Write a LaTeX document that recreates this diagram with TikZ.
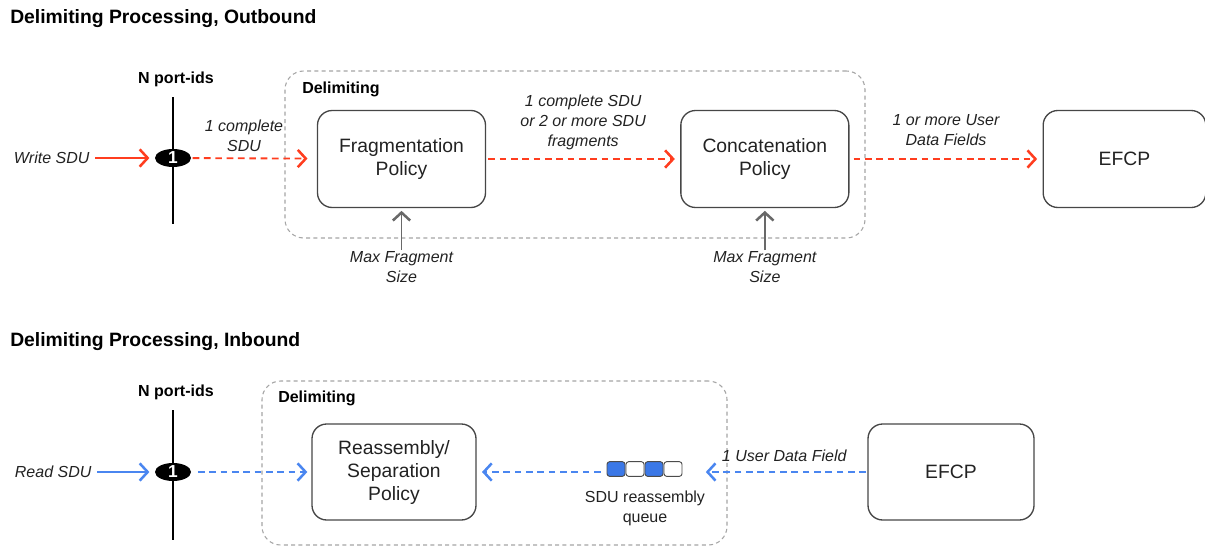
\documentclass[tikz,border=0pt]{standalone}
\usepackage{fontspec}
\setmainfont{Liberation Sans}
\definecolor{outred}{RGB}{255,61,31}
\definecolor{inblue}{RGB}{74,134,240}
\definecolor{qblue}{RGB}{59,120,231}
\definecolor{boxgray}{RGB}{70,70,70}
\definecolor{delimgray}{RGB}{165,165,165}
\definecolor{maxgray}{RGB}{105,105,105}
\definecolor{txtgray}{RGB}{34,34,34}
\usetikzlibrary{shapes.geometric, arrows.meta, positioning, fit}

\begin{document}
\begin{tikzpicture}[x=0.75pt, y=-0.75pt,
        box/.style={rectangle, draw=boxgray, line width=1pt, rounded corners=11pt,
                    minimum width=126pt, minimum height=72.75pt, align=center,
                    font=\fontsize{14.5}{17.25}\selectfont, text=txtgray},
        delimbox/.style={rectangle, draw=delimgray, line width=0.8pt,
                         dash pattern=on 3pt off 2.5pt, rounded corners=14pt, inner sep=0pt},
        title/.style={font=\fontsize{14.5}{17}\selectfont\bfseries, anchor=west, inner sep=0pt},
        hdr/.style={font=\fontsize{12}{15}\selectfont\bfseries, inner sep=0pt},
        lbl/.style={font=\fontsize{12}{15}\selectfont\itshape, align=center, inner sep=1pt, text=txtgray},
        qlbl/.style={font=\fontsize{12}{15}\selectfont, align=center, inner sep=1pt, text=txtgray},
        port/.style={ellipse, fill=black, minimum width=27pt, minimum height=13.5pt,
                     inner sep=0pt, text=white, font=\fontsize{13}{13}\selectfont\bfseries},
        qcell/.style={rectangle, draw=black!70, line width=0.7pt, rounded corners=2pt,
                      minimum width=13.5pt, minimum height=11pt, inner sep=0pt},
        portline/.style={line width=1.5pt},
        chev/.style={-{Straight Barb[length=6pt, width=13pt, line width=1.9pt]}},
        outarr/.style={chev, outred, line width=1.4pt},
        outdash/.style={outarr, dash pattern=on 5pt off 3.5pt},
        inarr/.style={chev, inblue, line width=1.4pt},
        indash/.style={inarr, dash pattern=on 5pt off 3.5pt},
        maxarr/.style={chev, maxgray, line width=1.4pt}
    ]
        \useasboundingbox (0,0) rectangle (1205,546);

        % Outbound
        \node[title] (titleout) at (10,19) {Delimiting Processing, Outbound};
        \coordinate (doutnw) at (285,71);
        \coordinate (doutse) at (865,238);
        \node[delimbox, fit=(doutnw)(doutse)] (delimout) {};
        \node[hdr, anchor=west] (delimoutlbl) at (302,89) {Delimiting};

        \coordinate (pouttop) at (173,97);
        \coordinate (poutbot) at (173,224);
        \draw[portline] (pouttop) -- (poutbot);
        \node[hdr] (nout) at (176,79) {N port-ids};
        \node[port] (portout) at (173,158) {1};
        \node[lbl, anchor=east] (write) at (91,158) {Write SDU};

        \node[box] (frag) at (401.5,159) {Fragmentation\\Policy};
        \node[box, right=145.5pt of frag] (concat) {Concatenation\\Policy};
        \node[box, right=144.75pt of concat, minimum width=122pt] (efcpout) {EFCP};

        \node[lbl, below=31.5pt of frag] (maxfrag) {Max Fragment\\Size};
        \node[lbl, below=31.5pt of concat] (maxconcat) {Max Fragment\\Size};

        \draw[outarr, shorten <=3pt, shorten >=4pt] (write) -- (portout);
        \draw[outdash, shorten <=1pt, shorten >=7pt] (portout) -- (frag)
            node[lbl, pos=0.42, above=3pt] {1 complete\\SDU};
        \draw[outdash, shorten <=1.5pt, shorten >=4pt] (frag) -- (concat)
            node[lbl, midway, above=5pt] {1 complete SDU\\or 2 or more SDU\\fragments};
        \draw[outdash, shorten <=3pt, shorten >=4pt] (concat) -- (efcpout)
            node[lbl, midway, above=8pt] {1 or more User\\Data Fields};
        \draw[maxarr, shorten >=2pt] (maxfrag) -- (frag);
        \draw[maxarr, shorten >=2pt] (maxconcat) -- (concat);

        % Inbound
        \node[title] (titlein) at (10,342) {Delimiting Processing, Inbound};
        \coordinate (dinnw) at (262,381);
        \coordinate (dinse) at (727,545);
        \node[delimbox, fit=(dinnw)(dinse)] (delimin) {};
        \node[hdr, anchor=west] (deliminlbl) at (278,398) {Delimiting};

        \coordinate (pintop) at (173,410);
        \coordinate (pinbot) at (173,540);
        \draw[portline] (pintop) -- (pinbot);
        \node[hdr] (nin) at (176,392) {N port-ids};
        \node[port] (portin) at (173,472) {1};
        \node[lbl, anchor=east] (read) at (93,472) {Read SDU};

        \node[box, minimum width=123pt, minimum height=72pt] (reass) at (394,472) {Reassembly/\\Separation\\Policy};
        \node[box, minimum width=124.5pt, minimum height=72pt] (efcpin) at (951,472) {EFCP};

        \foreach \i/\c in {1/qblue, 2/white, 3/qblue, 4/white}
            \node[qcell, fill=\c] (q\i) at (597+19*\i,469) {};
        \node[qlbl] (qname) at (645,508) {SDU reassembly\\queue};

        \draw[inarr, shorten <=3pt, shorten >=4pt] (read) -- (portin);
        \draw[indash, shorten <=5pt, shorten >=3pt] (portin) -- (reass);
        \draw[indash, shorten <=4.5pt, shorten >=4pt] (q1.west |- reass) -- (reass);
        \draw[indash, shorten <=1pt, shorten >=17.5pt] (efcpin) -- (q4.east |- efcpin)
            node[lbl, midway, above=6pt, xshift=7pt] {1 User Data Field};
    \end{tikzpicture}
\end{document}
